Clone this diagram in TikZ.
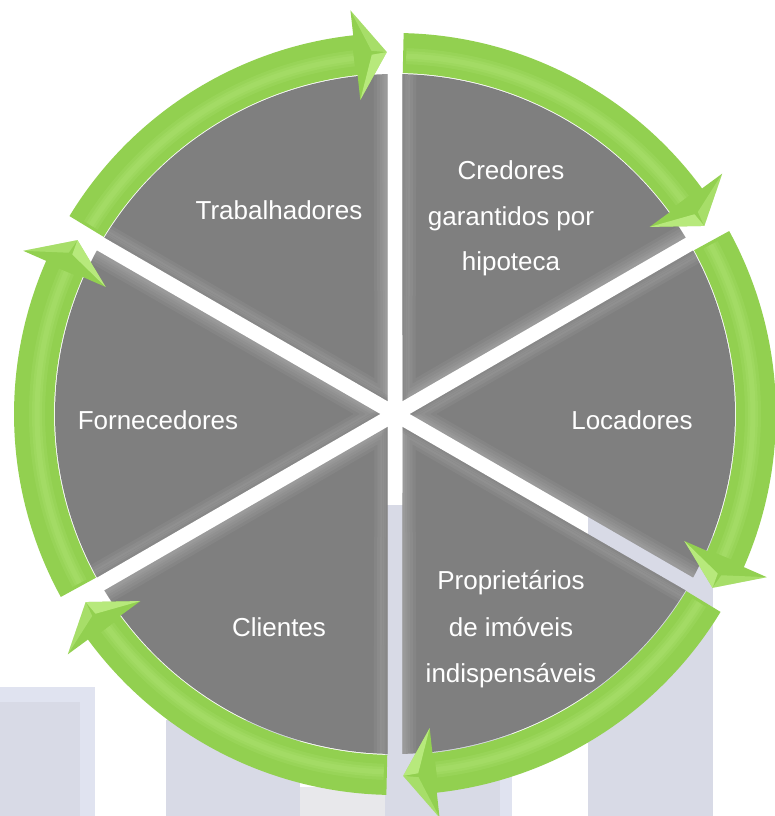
\documentclass[tikz,border=0pt]{standalone}
\usepackage{fontspec}
\setmainfont{Liberation Sans}
\definecolor{wedgegrey}{HTML}{7F7F7F}
\definecolor{arrowgreen}{HTML}{92D050}
\definecolor{lightgreen}{HTML}{C8F590}
\definecolor{barlav}{HTML}{D8DAE6}
\definecolor{barlavlight}{HTML}{E0E3F0}
\definecolor{barlightgrey}{HTML}{E8E8EB}
\begin{document}
\begin{tikzpicture}[x=1pt,y=1pt,
  lbl/.style={text=white,font=\fontsize{26}{30}\selectfont,inner sep=0pt,anchor=base},
  bar/.style={fill=barlav},
  barlight/.style={fill=barlavlight}]
\useasboundingbox (0,0) rectangle (775,816);
\fill[white] (0,0) rectangle (775,816);
% background bars
\fill[barlight] (0,0) rectangle (95,129);
\fill[bar] (0,0) rectangle (80,114);
\fill[bar] (166,0) rectangle (300,96);
\fill[barlightgrey] (300,0) rectangle (385,29);
\fill[bar] (385,0) rectangle (512,311);
\fill[barlight] (500,0) rectangle (512,311);
\fill[bar] (588,0) rectangle (713,336);
\begin{scope}[shift={(395,402)}]
  % wedges
  \foreach \a in {90,30,-30,-90,-150,150}{
    \pgfmathsetmacro{\aa}{\a-60+1.26}
    \pgfmathsetmacro{\ab}{\a-1.26}
    \pgfmathsetmacro{\am}{\a-30}
    \fill[wedgegrey] (\am:15pt) -- (\aa:340pt) arc[start angle=\aa, end angle=\ab, radius=340pt] -- cycle;
    \begin{scope}
      \clip (\am:15pt) -- (\aa:340pt) arc[start angle=\aa, end angle=\ab, radius=340pt] -- cycle;
      \foreach \w in {26,20,14,9,5}{
        \draw[white,opacity=0.05,line width=\w pt,line join=round] (\aa:380pt) -- (\am:15pt) -- (\ab:380pt);
      }
      \foreach \w in {10,6,3}{
        \draw[black,opacity=0.04,line width=\w pt] (\ab:380pt) -- (\am:15pt);
      }
    \end{scope}
  }
  % arrows
  \foreach \t/\e in {148.7/91.3, 88.7/31.3, 28.7/-28.7, -31.3/-88.7, -91.3/-148.7, -151.3/-208.7}{
    \pgfmathsetmacro{\hb}{\e+5}
    \fill[arrowgreen] (\t:381pt) arc[start angle=\t, end angle=\hb, radius=381pt] -- (\hb:406pt) -- (\e:362pt) -- (\hb:316pt) -- (\hb:341pt) arc[start angle=\hb, end angle=\t, radius=341pt] -- cycle;
    \foreach \w in {16,10,5}{
      \draw[lightgreen,opacity=0.13,line width=\w pt] (\t-0.5:358pt) arc[start angle=\t-0.5, end angle=\hb+0.3, radius=358pt];
    }
    \fill[lightgreen,opacity=0.7] (\e:362pt) -- (\e+2.4:360pt) -- (\hb:316pt) -- cycle;
    \fill[lightgreen,opacity=0.4] (\e:362pt) -- (\e+2.4:364pt) -- (\hb:406pt) -- cycle;
  }
\end{scope}
% labels
\node[lbl] (trab) at (279,596) {Trabalhadores};
\node[lbl] (cred1) at (511,636) {Credores};
\node[lbl] (cred2) at (511,590) {garantidos por};
\node[lbl] (cred3) at (511,545) {hipoteca};
\node[lbl] (loca) at (632,386) {Locadores};
\node[lbl] (forn) at (158,386) {Fornecedores};
\node[lbl] (clie) at (279,179) {Clientes};
\node[lbl] (prop1) at (511,226) {Proprietários};
\node[lbl] (prop2) at (511,179) {de imóveis};
\node[lbl] (prop3) at (511,133) {indispensáveis};
\end{tikzpicture}
\end{document}
